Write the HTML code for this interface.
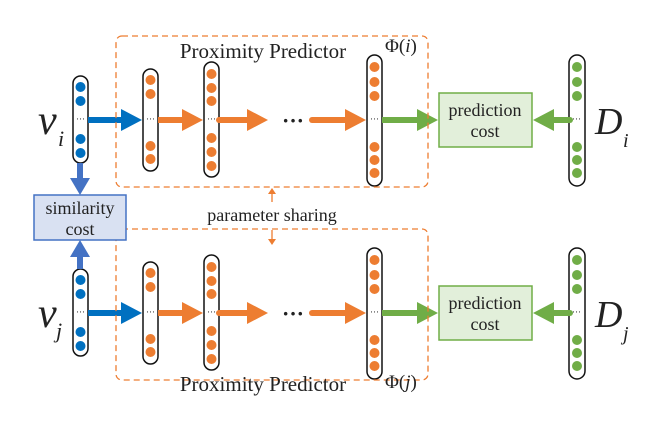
<!DOCTYPE html>
<html><head><meta charset="utf-8"><style>body{margin:0;background:#fff}svg{display:block}text{font-family:"Liberation Serif",serif;fill:#222}</style></head><body>
<svg width="665" height="427" viewBox="0 0 665 427" xmlns="http://www.w3.org/2000/svg">
<defs>
<g id="half">
<rect x="73" y="76" width="15" height="87" rx="7.5" fill="#fff" stroke="#111" stroke-width="1.5"/>
<g fill="#0070C0"><circle cx="80.5" cy="87" r="5"/><circle cx="80.5" cy="101" r="5"/><circle cx="80.5" cy="139" r="5"/><circle cx="80.5" cy="153" r="5"/></g>
<rect x="143" y="69" width="15" height="102" rx="7.5" fill="#fff" stroke="#111" stroke-width="1.5"/>
<g fill="#ED7D31"><circle cx="150.5" cy="80" r="5"/><circle cx="150.5" cy="94" r="5"/><circle cx="150.5" cy="146" r="5"/><circle cx="150.5" cy="159" r="5"/></g>
<rect x="204" y="62" width="15" height="115" rx="7.5" fill="#fff" stroke="#111" stroke-width="1.5"/>
<g fill="#ED7D31"><circle cx="211.5" cy="74" r="5"/><circle cx="211.5" cy="88" r="5"/><circle cx="211.5" cy="101" r="5"/><circle cx="211.5" cy="138" r="5"/><circle cx="211.5" cy="152" r="5"/><circle cx="211.5" cy="166" r="5"/></g>
<rect x="367" y="55" width="15" height="131" rx="7.5" fill="#fff" stroke="#111" stroke-width="1.5"/>
<g fill="#ED7D31"><circle cx="374.5" cy="67" r="5"/><circle cx="374.5" cy="82" r="5"/><circle cx="374.5" cy="96" r="5"/><circle cx="374.5" cy="147" r="5"/><circle cx="374.5" cy="160" r="5"/><circle cx="374.5" cy="173" r="5"/></g>
<rect x="569" y="55" width="16" height="131" rx="8" fill="#fff" stroke="#111" stroke-width="1.5"/>
<g fill="#70AD47"><circle cx="577" cy="67" r="5"/><circle cx="577" cy="82" r="5"/><circle cx="577" cy="96" r="5"/><circle cx="577" cy="147" r="5"/><circle cx="577" cy="160" r="5"/><circle cx="577" cy="173" r="5"/></g>
<g fill="#222" font-size="9"><text x="76" y="122">···</text><text x="146" y="122">···</text><text x="207" y="122">···</text><text x="370" y="122">···</text><text x="572" y="122">···</text></g>
<path d="M88 120H124" stroke="#0070C0" stroke-width="6"/><path d="M121 109L142 120L121 131Z" fill="#0070C0"/>
<path d="M158 120H185" stroke="#ED7D31" stroke-width="6"/><path d="M182 109L203 120L182 131Z" fill="#ED7D31"/>
<path d="M219 120H250" stroke="#ED7D31" stroke-width="6" stroke-linecap="round"/><path d="M247 109L268 120L247 131Z" fill="#ED7D31"/>
<text x="282" y="128" font-size="22" font-weight="bold">···</text>
<path d="M312 120H348" stroke="#ED7D31" stroke-width="6" stroke-linecap="round"/><path d="M345 109L366 120L345 131Z" fill="#ED7D31"/>
<path d="M382 120H420" stroke="#70AD47" stroke-width="6"/><path d="M417 109L438 120L417 131Z" fill="#70AD47"/>
<path d="M570 120H552" stroke="#70AD47" stroke-width="6" stroke-linecap="round"/><path d="M554 109L533 120L554 131Z" fill="#70AD47"/>
<rect x="439" y="93" width="93" height="54" fill="#E2EFDA" stroke="#70AD47" stroke-width="1.5"/>
<rect x="116" y="36" width="312" height="151" rx="6" fill="none" stroke="#ED7D31" stroke-width="1.3" stroke-dasharray="6,4"/>
</g>
</defs>
<use href="#half"/>
<use href="#half" transform="translate(0,193)"/>
<rect x="34" y="195" width="92" height="45" fill="#D9E1F2" stroke="#4472C4" stroke-width="1.5"/>
<path d="M80 163V180" stroke="#4472C4" stroke-width="6"/><path d="M70 178L80 195L90 178Z" fill="#4472C4"/>
<path d="M80 269V256" stroke="#4472C4" stroke-width="6"/><path d="M70 257L80 240L90 257Z" fill="#4472C4"/>
<path d="M272 192V202M272 230V241" stroke="#ED7D31" stroke-width="1.3"/>
<path d="M268 194L272 188L276 194Z M268 239L272 245L276 239Z" fill="#ED7D31"/>
<g font-size="18" text-anchor="middle">
<text x="485" y="116">prediction</text><text x="485" y="137">cost</text>
<text x="485" y="309">prediction</text><text x="485" y="330">cost</text>
<text x="80" y="214">similarity</text><text x="80" y="235">cost</text>
<text x="272" y="221">parameter sharing</text>
</g>
<text x="263" y="58" font-size="21" text-anchor="middle">Proximity Predictor</text>
<text x="263" y="391" font-size="21" text-anchor="middle">Proximity Predictor</text>
<text x="385" y="52" font-size="19">Φ(<tspan font-style="italic">i</tspan>)</text>
<text x="385" y="388" font-size="19">Φ(<tspan font-style="italic">j</tspan>)</text>
<text x="38" y="134" font-size="42" font-style="italic">v</text><text x="58" y="146" font-size="22" font-style="italic">i</text>
<text x="38" y="327" font-size="42" font-style="italic">v</text><text x="56" y="338" font-size="22" font-style="italic">j</text>
<text x="595" y="134" font-size="38" font-style="italic">D</text><text x="623" y="147" font-size="20" font-style="italic">i</text>
<text x="595" y="327" font-size="38" font-style="italic">D</text><text x="623" y="340" font-size="20" font-style="italic">j</text>
</svg>
</body></html>
